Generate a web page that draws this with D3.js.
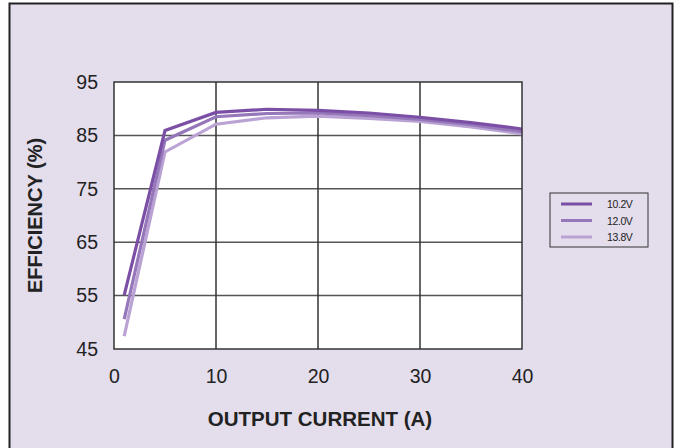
<!DOCTYPE html>
<html>
<head>
<meta charset="utf-8">
<script src="https://cdn.jsdelivr.net/npm/d3@7"></script>
<style>
  body { margin: 0; background: #fff; }
  text { font-family: "Liberation Sans", Arial, Helvetica, sans-serif; }
</style>
</head>
<body>
<div id="chart"></div>
<script>
'use strict'

// data
const current = [1, 5, 10, 15, 20, 25, 30, 35, 40]
const eff102 = [55.1, 85.9, 89.3, 89.9, 89.7, 89.2, 88.4, 87.4, 86.2]
const eff120 = [50.6, 84.1, 88.5, 89.1, 89.2, 88.7, 88.0, 87.0, 85.7]
const eff138 = [47.4, 81.9, 87.1, 88.3, 88.6, 88.2, 87.6, 86.6, 85.3]
const seriesNames = ['10.2V', '12.0V', '13.8V']
const xTicks = [0, 10, 20, 30, 40]
const yTicks = [45, 55, 65, 75, 85, 95]

const colors = ['#7b4fa5', '#9677ba', '#baa3d4']

const svgWidth = 681
const svgHeight = 448
const margin = { left: 114, right: 159, top: 82, bottom: 99 }
const width = svgWidth - margin.left - margin.right
const height = svgHeight - margin.top - margin.bottom

const root = d3.select('#chart')
    .append('svg')
    .attr('width', svgWidth)
    .attr('height', svgHeight)

// background panel with frame
root.append('rect')
    .attr('x', 9.5).attr('y', 3.5)
    .attr('width', 663).attr('height', 450)
    .attr('fill', '#e3ddec')
    .attr('stroke', '#222')
    .attr('stroke-width', 2)

const svg = root.append('g')
    .attr('transform', `translate(${margin.left},${margin.top})`)

const x = d3.scaleLinear().domain([0, 40]).range([0, width])
const y = d3.scaleLinear().domain([45, 95]).range([height, 0])

svg.append('rect')
    .attr('width', width).attr('height', height)
    .attr('fill', '#fff')

// grid
svg.append('g')
    .selectAll('line')
    .data(yTicks.slice(1, -1))
    .join('line')
    .attr('x1', 0).attr('x2', width)
    .attr('y1', d => y(d)).attr('y2', d => y(d))
    .attr('stroke', '#555').attr('stroke-width', 1.5)

svg.append('g')
    .selectAll('line')
    .data(xTicks.slice(1, -1))
    .join('line')
    .attr('y1', 0).attr('y2', height)
    .attr('x1', d => x(d)).attr('x2', d => x(d))
    .attr('stroke', '#333').attr('stroke-width', 1.5)

// lines
const series = [eff102, eff120, eff138]
const line = d3.line()
    .x((d, i) => x(current[i]))
    .y(d => y(d))

svg.append('g')
    .selectAll('path')
    .data(series.slice().reverse())
    .join('path')
    .attr('d', d => line(d))
    .attr('fill', 'none')
    .attr('stroke', (d, i) => colors[2 - i])
    .attr('stroke-width', 3.2)
    .attr('stroke-linejoin', 'miter')

// frame
svg.append('rect')
    .attr('width', width).attr('height', height)
    .attr('fill', 'none')
    .attr('stroke', '#333').attr('stroke-width', 1.5)

// axes
const xAxis = svg.append('g')
    .attr('transform', `translate(0,${height})`)
    .call(d3.axisBottom(x).tickValues(xTicks).tickSize(0).tickPadding(20))
xAxis.select('.domain').remove()
xAxis.selectAll('text').attr('font-size', 19.5).attr('fill', '#222')
    .attr('font-family', '"Liberation Sans", Arial, sans-serif')

const yAxis = svg.append('g')
    .call(d3.axisLeft(y).tickValues(yTicks).tickSize(0).tickPadding(16))
yAxis.select('.domain').remove()
yAxis.selectAll('text').attr('font-size', 19.5).attr('fill', '#222')
    .attr('font-family', '"Liberation Sans", Arial, sans-serif')

// axis titles
svg.append('text')
    .attr('x', width / 2 + 2).attr('y', height + 77)
    .attr('text-anchor', 'middle')
    .attr('font-size', 20.5).attr('font-weight', 'bold').attr('fill', '#222')
    .text('OUTPUT CURRENT (A)')

svg.append('text')
    .attr('transform', `translate(-72,${height / 2}) rotate(-90)`)
    .attr('text-anchor', 'middle')
    .attr('font-size', 20).attr('font-weight', 'bold').attr('fill', '#222')
    .text('EFFICIENCY (%)')

// legend
const legend = root.append('g').attr('transform', 'translate(550,193)')
legend.append('rect')
    .attr('width', 98).attr('height', 54)
    .attr('fill', 'none').attr('stroke', '#333').attr('stroke-width', 1)

const items = legend.selectAll('g.item')
    .data(seriesNames)
    .join('g')
    .attr('class', 'item')
    .attr('transform', (d, i) => `translate(0,${11 + i * 16.5})`)

items.append('line')
    .attr('x1', 11).attr('x2', 42)
    .attr('stroke', (d, i) => colors[i])
    .attr('stroke-width', 3)

items.append('text')
    .attr('x', 57).attr('y', 4)
    .attr('font-size', 10.5).attr('letter-spacing', -0.4).attr('fill', '#222')
    .text(d => d)
</script>
</body>
</html>
